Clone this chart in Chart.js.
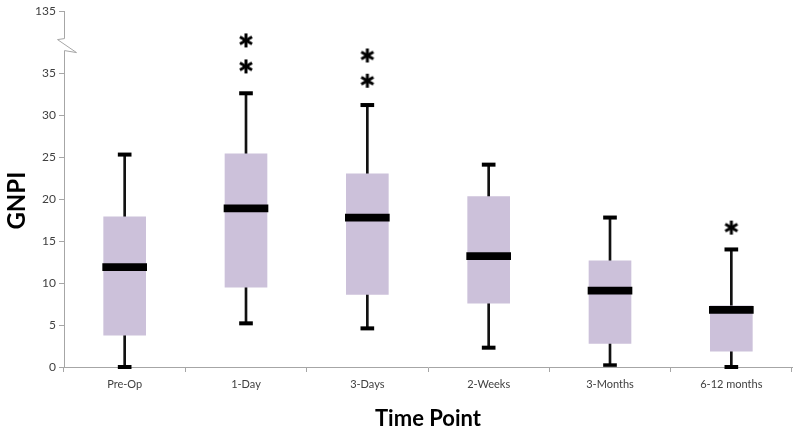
<!DOCTYPE html>
<html><head><meta charset="utf-8">
<script src="https://cdn.jsdelivr.net/npm/chart.js@4/dist/chart.umd.min.js"></script>
<style>html,body{margin:0;padding:0;background:#fff;}#wrap{width:800px;height:433px;position:relative;}</style>
</head><body><div id="wrap"><canvas id="c"></canvas></div>
<script>
// ---- data ----
const categories   = ['Pre-Op','1-Day','3-Days','2-Weeks','3-Months','6-12 months'];
const whiskerLow   = [0,    5.2,  4.6,  2.3,  0.2,  0];
const q1           = [3.8,  9.5,  8.65, 7.6,  2.8,  1.9];
const median       = [11.9, 18.9, 17.8, 13.2, 9.1,  6.8];
const q3           = [17.9, 25.4, 23.0, 20.3, 12.65, 7.3];
const whiskerHigh  = [25.3, 32.6, 31.2, 24.1, 17.8, 14.0];
const outlierCats  = ['1-Day','1-Day','3-Days','3-Days','6-12 months'];
const outlierVals  = [38.9, 35.8, 37.1, 34.1, 16.6];
const yTickValues  = [0,5,10,15,20,25,30,35,42.4];
const yTickLabels  = ['0','5','10','15','20','25','30','35','135'];
const yBreakValue  = 38.4;

// ---- styling constants ----
const BOX_COLOR = '#ccc1da';
const INK = '#111';
const AXIS = '#a6a6a6';
const TXT = '#404040';
const medianHalf = 0.42;   // value units (~7px thick)
const capHalf = 0.2;

const pair = (lo, hi) => lo.map((v, i) => [v, hi[i]]);
const around = (arr, h) => arr.map(v => [v - h, v + h]);

function makeAsterisk(){
  const c = document.createElement('canvas'); c.width = 16; c.height = 16;
  const g = c.getContext('2d'); g.strokeStyle = '#000'; g.lineWidth = 3;
  const r = 7, cx = 8, cy = 8;
  for (const a of [90, 30, -30]) {
    const t = a * Math.PI / 180;
    g.beginPath(); g.moveTo(cx - r*Math.cos(t), cy - r*Math.sin(t));
    g.lineTo(cx + r*Math.cos(t), cy + r*Math.sin(t)); g.stroke();
  }
  return c;
}

const axisBreak = {
  id: 'axisBreak',
  afterDraw(chart){
    const y = chart.scales.y, ctx = chart.ctx;
    const ax = Math.round(chart.chartArea.left) + 0.5;
    const top = y.getPixelForValue(yTickValues[yTickValues.length-1]);
    const bot = y.getPixelForValue(0);
    const yb = y.getPixelForValue(yBreakValue);
    ctx.save();
    ctx.strokeStyle = AXIS; ctx.lineWidth = 1;
    ctx.beginPath();
    ctx.moveTo(ax, top); ctx.lineTo(ax, yb - 6);
    ctx.lineTo(ax - 7, yb - 5);
    ctx.lineTo(ax + 12, yb + 8);
    ctx.lineTo(ax, yb + 6);
    ctx.lineTo(ax, bot);
    ctx.stroke();
    ctx.restore();
  }
};

const common = { grouped: false, borderWidth: 0, categoryPercentage: 1, barPercentage: 1 };

new Chart(document.getElementById('c'), {
  type: 'bar',
  data: {
    labels: categories,
    datasets: [
      { ...common, label: 'whisker', data: pair(whiskerLow, whiskerHigh), backgroundColor: INK, barThickness: 2, order: 6 },
      { ...common, label: 'box', data: pair(q1, q3), backgroundColor: BOX_COLOR, barThickness: 42, order: 5 },
      { ...common, label: 'median', data: around(median, medianHalf), backgroundColor: '#000', barThickness: 44, order: 4 },
      { ...common, label: 'capHigh', data: around(whiskerHigh, capHalf), backgroundColor: '#000', barThickness: 13, order: 3, clip: false },
      { ...common, label: 'capLow', data: around(whiskerLow, capHalf), backgroundColor: '#000', barThickness: 13, order: 3, clip: false },
      { type: 'line', label: 'outliers', showLine: false, order: 1, clip: false,
        data: outlierCats.map((c, i) => ({ x: c, y: outlierVals[i] })),
        pointStyle: makeAsterisk(), pointRadius: 7 }
    ]
  },
  options: {
    responsive: true, maintainAspectRatio: false, animation: false,
    layout: { padding: { left: 0, right: 5, top: 11, bottom: 0 } },
    plugins: { legend: { display: false }, tooltip: { enabled: false } },
    scales: {
      x: {
        grid: { display: true, drawOnChartArea: false, drawTicks: true, tickLength: 5, color: AXIS, offset: true },
        border: { display: true, color: AXIS, width: 1 },
        ticks: { color: TXT, font: { family: 'Lato', size: 11 }, padding: 6, maxRotation: 0 },
        title: { display: true, text: 'Time Point', color: '#000', font: { family: 'Lato', size: 22, weight: 'bold' }, padding: { top: 0, bottom: 1 } },
        afterFit(s){ s.height = 66; }
      },
      y: {
        min: 0, max: yTickValues[yTickValues.length-1],
        afterBuildTicks(s){ s.ticks = yTickValues.map(v => ({ value: v })); },
        grid: { display: true, drawOnChartArea: false, drawTicks: true, tickLength: 5, color: AXIS },
        border: { display: false },
        ticks: { color: TXT, font: { family: 'Lato', size: 12 }, padding: 3,
                 callback: (v, i) => yTickLabels[i] },
        title: { display: true, text: 'GNPI    ', color: '#000', font: { family: 'Lato', size: 24, weight: 'bold' }, padding: { top: 3, bottom: 0 } },
        afterFit(s){ s.width = 64; }
      }
    }
  },
  plugins: [axisBreak]
});
</script>
</body></html>
